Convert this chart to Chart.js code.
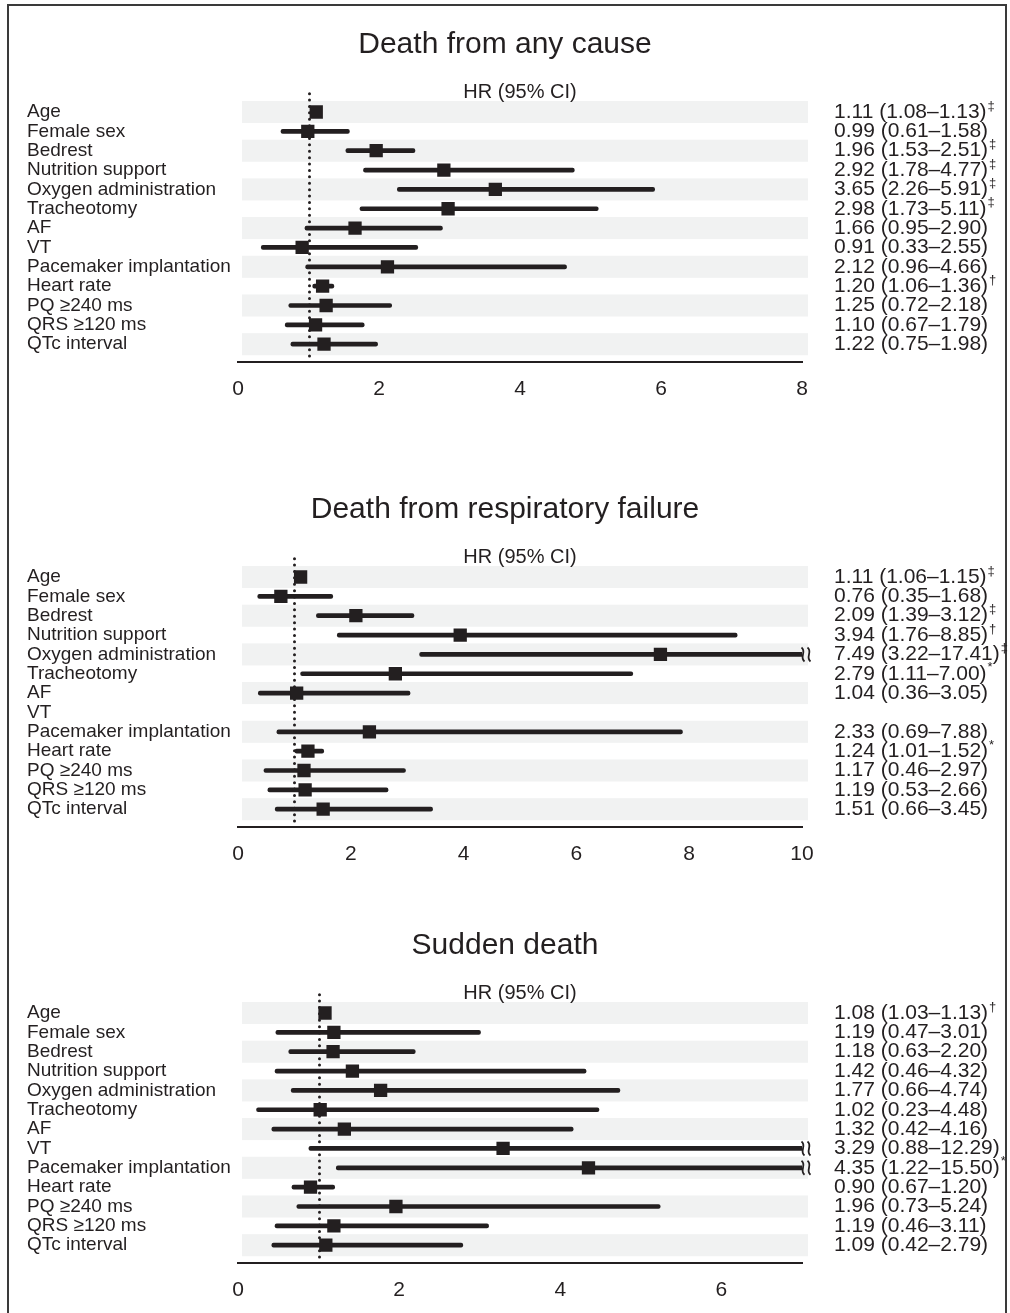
<!DOCTYPE html>
<html>
<head>
<meta charset="utf-8">
<script src="https://cdn.jsdelivr.net/npm/chart.js@4/dist/chart.umd.min.js"></script>
<style>
  html, body { margin: 0; padding: 0; background: #fff; width: 1010px; height: 1313px; overflow: hidden; }
  #frame { position: absolute; left: 7px; top: 4px; width: 1000px; height: 1330px;
           border-left: 2px solid #3a3a3a; border-top: 2px solid #3a3a3a; border-right: 2px solid #3a3a3a; box-sizing: border-box; }
  canvas { position: absolute; left: 0; }
</style>
</head>
<body>
<div id="frame"></div>
<canvas id="c1" width="1010" height="430" style="top:0px;width:1010px;height:430px"></canvas>
<canvas id="c2" width="1010" height="430" style="top:465px;width:1010px;height:430px"></canvas>
<canvas id="c3" width="1010" height="430" style="top:901px;width:1010px;height:430px"></canvas>
<script>
// ---------- DATA ----------
const categories = ['Age', 'Female sex', 'Bedrest', 'Nutrition support', 'Oxygen administration',
  'Tracheotomy', 'AF', 'VT', 'Pacemaker implantation', 'Heart rate', 'PQ \u2265240 ms',
  'QRS \u2265120 ms', 'QTc interval'];

const anyTitle = 'Death from any cause';
const anyHR  = [1.11, 0.99, 1.96, 2.92, 3.65, 2.98, 1.66, 0.91, 2.12, 1.20, 1.25, 1.10, 1.22];
const anyLo  = [1.08, 0.61, 1.53, 1.78, 2.26, 1.73, 0.95, 0.33, 0.96, 1.06, 0.72, 0.67, 0.75];
const anyHi  = [1.13, 1.58, 2.51, 4.77, 5.91, 5.11, 2.90, 2.55, 4.66, 1.36, 2.18, 1.79, 1.98];
const anySig = ['\u2021', '', '\u2021', '\u2021', '\u2021', '\u2021', '', '', '', '\u2020', '', '', ''];
const anyTicks = [0, 2, 4, 6, 8];
const anyMax = 8;

const respTitle = 'Death from respiratory failure';
const respHR  = [1.11, 0.76, 2.09, 3.94, 7.49, 2.79, 1.04, null, 2.33, 1.24, 1.17, 1.19, 1.51];
const respLo  = [1.06, 0.35, 1.39, 1.76, 3.22, 1.11, 0.36, null, 0.69, 1.01, 0.46, 0.53, 0.66];
const respHi  = [1.15, 1.68, 3.12, 8.85, 17.41, 7.00, 3.05, null, 7.88, 1.52, 2.97, 2.66, 3.45];
const respSig = ['\u2021', '', '\u2021', '\u2020', '\u2021', '*', '', '', '', '*', '', '', ''];
const respTicks = [0, 2, 4, 6, 8, 10];
const respMax = 10;

const sudTitle = 'Sudden death';
const sudHR  = [1.08, 1.19, 1.18, 1.42, 1.77, 1.02, 1.32, 3.29, 4.35, 0.90, 1.96, 1.19, 1.09];
const sudLo  = [1.03, 0.47, 0.63, 0.46, 0.66, 0.23, 0.42, 0.88, 1.22, 0.67, 0.73, 0.46, 0.42];
const sudHi  = [1.13, 3.01, 2.20, 4.32, 4.74, 4.48, 4.16, 12.29, 15.50, 1.20, 5.24, 3.11, 2.79];
const sudSig = ['\u2020', '', '', '', '', '', '', '', '*', '', '', '', ''];
const sudTicks = [0, 2, 4, 6];
const sudMax = 7;

const axisTitle = 'HR (95% CI)';
const refValue = 1;

// ---------- STYLE ----------
const FONT = "'Liberation Sans', Arial, Helvetica, sans-serif";
const INK = '#231f20';
const STRIPE = '#f1f2f2';

const forestPlugin = {
  id: 'forest',
  beforeDraw(chart, args, o) {
    const { ctx, chartArea: a, scales: { x, y } } = chart;
    ctx.save();
    ctx.fillStyle = STRIPE;
    for (let i = 0; i < categories.length; i += 2) {
      const t = y.getPixelForValue(i - 0.57), b = y.getPixelForValue(i + 0.57);
      ctx.fillRect(a.left + 4, t, a.right + 6 - (a.left + 4), b - t);
    }
    const rx = Math.round(x.getPixelForValue(refValue)) + 0.5;
    ctx.strokeStyle = INK;
    ctx.lineWidth = 3;
    ctx.lineCap = 'round';
    ctx.setLineDash([0, 6.4]);
    ctx.beginPath();
    ctx.moveTo(rx, a.top + 1);
    ctx.lineTo(rx, a.bottom);
    ctx.stroke();
    ctx.restore();
  },
  afterDatasetsDraw(chart, args, o) {
    const { ctx, chartArea: a, scales: { x, y } } = chart;
    ctx.save();
    // axis-break marks
    ctx.strokeStyle = INK;
    ctx.lineWidth = 1.8;
    for (let i = 0; i < categories.length; i++) {
      if (o.hi[i] == null || o.hi[i] <= x.max) continue;
      const cy = y.getPixelForValue(i);
      [a.right + 1, a.right + 7].forEach(cx => {
        ctx.beginPath();
        ctx.moveTo(cx - 1.5, cy - 7);
        ctx.bezierCurveTo(cx + 4, cy - 3, cx - 4, cy + 3, cx + 1.5, cy + 7);
        ctx.stroke();
      });
    }
    // HR (95% CI) text column
    ctx.fillStyle = INK;
    ctx.textAlign = 'left';
    ctx.textBaseline = 'middle';
    for (let i = 0; i < categories.length; i++) {
      if (o.hr[i] == null) continue;
      const s = o.hr[i].toFixed(2) + ' (' + o.lo[i].toFixed(2) + '\u2013' + o.hi[i].toFixed(2) + ')';
      const py = y.getPixelForValue(i);
      const tx = a.right + 32;
      ctx.font = '21px ' + FONT;
      ctx.fillText(s, tx, py);
      if (o.sig[i]) {
        const w = ctx.measureText(s).width;
        ctx.font = '13px ' + FONT;
        ctx.fillText(o.sig[i], tx + w + 1, py - 6);
      }
    }
    ctx.restore();
  }
};

function makeChart(id, title, hr, lo, hi, sig, ticks, max) {
  const ciData = [], hrData = [];
  for (let i = 0; i < categories.length; i++) {
    if (hr[i] == null) continue;
    ciData.push({ x: [lo[i], hi[i]], y: i });
    hrData.push({ x: hr[i], y: i });
  }
  return new Chart(document.getElementById(id), {
    type: 'bar',
    data: {
      datasets: [
        { type: 'scatter', data: hrData, pointStyle: 'rect', pointRadius: 9.4, pointHoverRadius: 9.4,
          backgroundColor: INK, borderWidth: 0, order: 1 },
        { type: 'bar', indexAxis: 'y', data: ciData, backgroundColor: INK, barThickness: 4,
          borderRadius: 2, borderSkipped: false, order: 2 }
      ]
    },
    options: {
      responsive: false, animation: false, devicePixelRatio: 1, events: [],
      layout: { padding: { left: 27, right: 27, top: 0, bottom: 28 } },
      plugins: {
        legend: { display: false },
        tooltip: { enabled: false },
        title: { display: true, text: title, color: INK,
                 font: { family: FONT, size: 30, weight: 'normal', lineHeight: 1.2 },
                 padding: { top: 27, bottom: 7 } },
        forest: { hr, lo, hi, sig }
      },
      scales: {
        x: {
          type: 'linear', position: 'bottom', min: 0, max: max, offset: false,
          afterBuildTicks: s => { s.ticks = ticks.map(v => ({ value: v })); },
          afterFit: s => { s.height = 40; },
          ticks: { color: INK, padding: 15, autoSkip: false, font: { family: FONT, size: 21 } },
          grid: { display: false, drawTicks: false, offset: false },
          border: { display: true, color: INK, width: 2 }
        },
        x2: {
          type: 'linear', axis: 'x', position: 'top', min: 0, max: max, offset: false,
          afterFit: s => { s.height = 22.65; },
          ticks: { display: false },
          grid: { display: false, drawTicks: false, offset: false },
          border: { display: false },
          title: { display: true, text: axisTitle, color: INK,
                   font: { family: FONT, size: 20, lineHeight: 1.2 }, padding: { top: 10, bottom: 0 } }
        },
        y: {
          type: 'linear', position: 'left', reverse: true, min: -1, max: 12.92, offset: false,
          afterBuildTicks: s => { s.ticks = categories.map((_, i) => ({ value: i })); },
          afterFit: s => { s.width = 211; },
          ticks: { autoSkip: false, crossAlign: 'far', color: INK, padding: 0,
                   callback: v => categories[v], font: { family: FONT, size: 19, lineHeight: 1 } },
          grid: { display: false, drawTicks: false, offset: false },
          border: { display: false }
        },
        y2: {
          type: 'linear', axis: 'y', position: 'right', min: 0, max: 1, offset: false,
          afterFit: s => { s.width = 181; },
          ticks: { display: false },
          grid: { display: false, drawTicks: false, offset: false },
          border: { display: false }
        }
      }
    },
    plugins: [forestPlugin]
  });
}

makeChart('c1', anyTitle, anyHR, anyLo, anyHi, anySig, anyTicks, anyMax);
makeChart('c2', respTitle, respHR, respLo, respHi, respSig, respTicks, respMax);
makeChart('c3', sudTitle, sudHR, sudLo, sudHi, sudSig, sudTicks, sudMax);
</script>
</body>
</html>
